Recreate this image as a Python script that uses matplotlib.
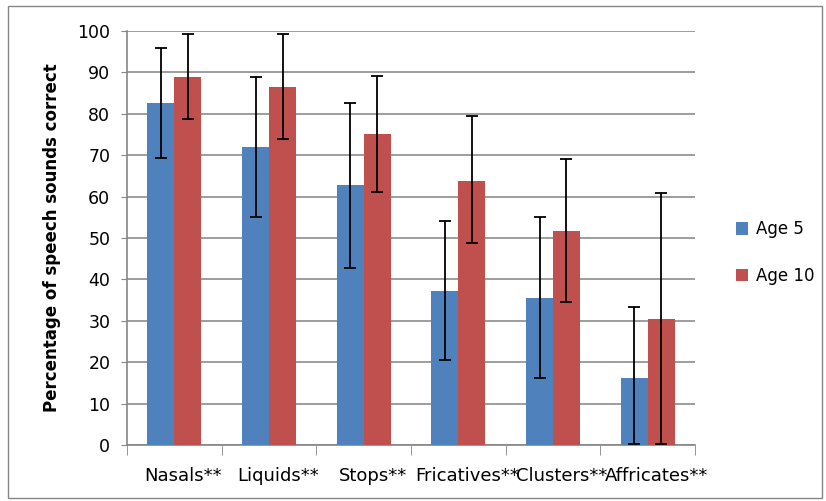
import matplotlib.pyplot as plt
import matplotlib.transforms as mtransforms
import numpy as np

# 数据
categories = ["Nasals**", "Liquids**", "Stops**", "Fricatives**", "Clusters**", "Affricates**"]
age5 = [82.7, 71.9, 62.7, 37.1, 35.5, 16.3]
age10 = [88.9, 86.4, 75.2, 63.8, 51.8, 30.4]
age5_err_lo = [13.5, 16.9, 19.9, 16.5, 19.4, 16.1]
age5_err_hi = [13.1, 16.9, 19.8, 17.0, 19.5, 17.0]
age10_err_lo = [10.2, 12.6, 14.0, 15.1, 17.3, 30.1]
age10_err_hi = [10.3, 12.8, 14.0, 15.7, 17.3, 30.4]

blue = '#4f81bd'
red = '#c0504d'

fig = plt.figure(figsize=(8.26, 5.01), dpi=100)
ax = fig.add_axes([0.1538, 0.1118, 0.6876, 0.8264])

x = np.arange(len(categories))
w = 0.285
err_kw = dict(ecolor='black', elinewidth=1.3, capsize=4, capthick=1.3)
ax.bar(x - w / 2, age5, w, color=blue, label='Age 5', zorder=3,
       yerr=[age5_err_lo, age5_err_hi], error_kw=err_kw)
ax.bar(x + w / 2, age10, w, color=red, label='Age 10', zorder=3,
       yerr=[age10_err_lo, age10_err_hi], error_kw=err_kw)

# 坐标轴
ax.set_xlim(-0.5, len(categories) - 0.5)
ax.set_ylim(0, 100)
ax.set_yticks(np.arange(0, 101, 10))
ax.tick_params(axis='y', labelsize=12.5, length=4, color='#868686', pad=8)
ax.set_xticks(x)
ax.set_xticklabels(categories, fontsize=13)
ax.tick_params(axis='x', which='major', length=0, pad=16)
ax.set_xticks(np.arange(-0.5, len(categories)), minor=True)
ax.tick_params(axis='x', which='minor', length=7, color='#868686')
offset = mtransforms.ScaledTranslation(9 / 100, 0, fig.dpi_scale_trans)
for lab in ax.get_xticklabels():
    lab.set_transform(lab.get_transform() + offset)
ax.grid(axis='y', color='#8c8c8c', linewidth=1.2, zorder=0)
for s in ['top', 'right']:
    ax.spines[s].set_visible(False)
for s in ['left', 'bottom']:
    ax.spines[s].set_color('#868686')
    ax.spines[s].set_linewidth(1.2)

ax.set_ylabel('Percentage of speech sounds correct', fontsize=12,
              fontweight='bold', labelpad=12)

ax.legend(loc='center left', bbox_to_anchor=(1.045, 0.465), frameon=False,
          fontsize=12, handlelength=0.75, handleheight=0.75, handletextpad=0.5,
          labelspacing=1.7)

# 外框
fig.patches.append(plt.Rectangle((0.01, 0.005), 0.985, 0.983, transform=fig.transFigure,
                                 fill=False, edgecolor='#868686', linewidth=1))

fig.savefig('out.png', dpi=100)
